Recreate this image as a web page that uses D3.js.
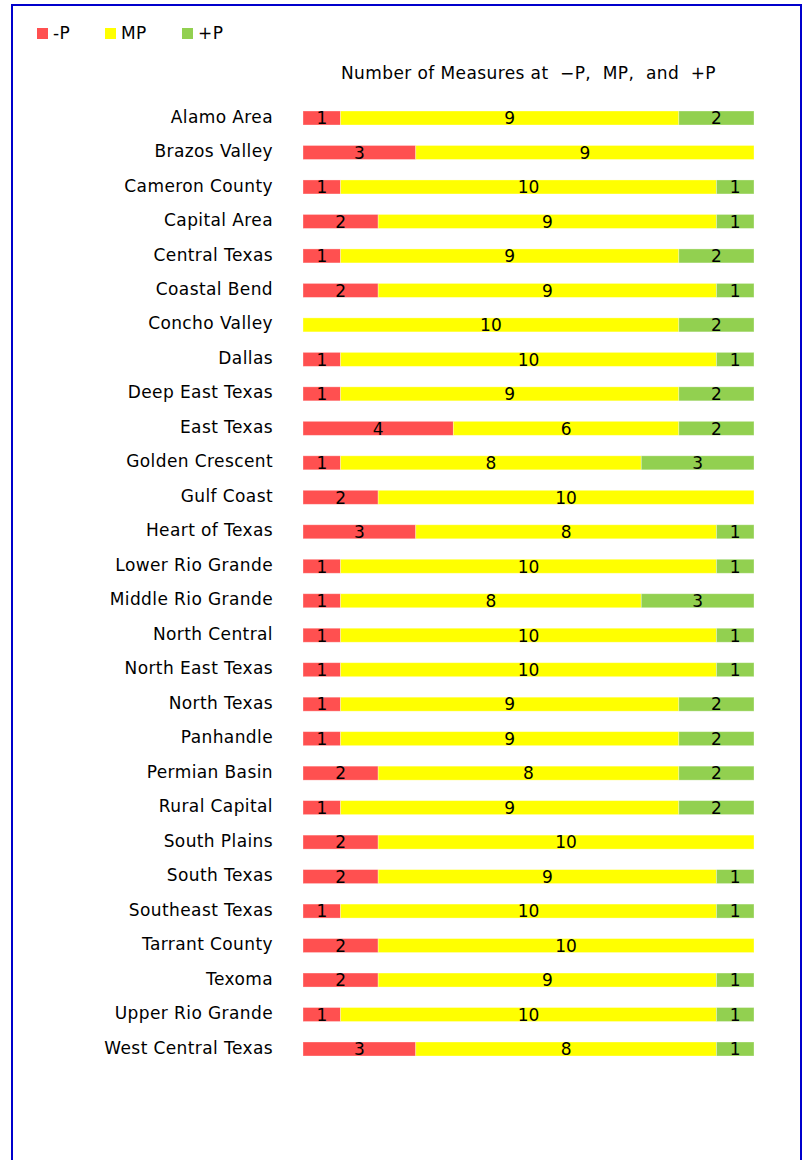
<!DOCTYPE html>
<html>
<head>
    <meta charset="utf-8">
    <title>Number of Measures at -P, MP, and +P</title>
    <style>
        body {
            margin: 0;
            background: #fff;
            font-family: "DejaVu Sans", Verdana, sans-serif;
        }
        .lbl {
            font-size: 17px;
            letter-spacing: 0.4px;
        }
    </style>
    <script src="https://d3js.org/d3.v7.min.js"></script>
</head>
<body>
    <div id="chart"></div>
    <script>
        var regions = ["Alamo Area", "Brazos Valley", "Cameron County", "Capital Area", "Central Texas",
            "Coastal Bend", "Concho Valley", "Dallas", "Deep East Texas", "East Texas", "Golden Crescent",
            "Gulf Coast", "Heart of Texas", "Lower Rio Grande", "Middle Rio Grande", "North Central",
            "North East Texas", "North Texas", "Panhandle", "Permian Basin", "Rural Capital", "South Plains",
            "South Texas", "Southeast Texas", "Tarrant County", "Texoma", "Upper Rio Grande", "West Central Texas"];
        var minusP = [1, 3, 1, 2, 1, 2, 0, 1, 1, 4, 1, 2, 3, 1, 1, 1, 1, 1, 1, 2, 1, 2, 2, 1, 2, 2, 1, 3];
        var mp     = [9, 9, 10, 9, 9, 9, 10, 10, 9, 6, 8, 10, 8, 10, 8, 10, 10, 9, 9, 8, 9, 10, 9, 10, 10, 9, 10, 8];
        var plusP  = [2, 0, 1, 1, 2, 1, 2, 1, 2, 2, 3, 0, 1, 1, 3, 1, 1, 2, 2, 2, 2, 0, 1, 1, 0, 1, 1, 1];
        var seriesNames = ["-P", "MP", "+P"];
        var colors = ["#FF5050", "#FFFF00", "#92D050"];

        var width = 803, height = 1160;

        // one row per region, keyed by series name
        var data = regions.map(function (r, i) {
            return { region: r, "-P": minusP[i], "MP": mp[i], "+P": plusP[i] };
        });
        var stacked = d3.stack().keys(seriesNames)(data);

        var svg = d3.select("#chart").append("svg")
            .attr("width", width)
            .attr("height", height);

        // blue frame, bottom runs off the page
        svg.append("rect")
            .attr("x", 12).attr("y", 5)
            .attr("width", 789).attr("height", 1300)
            .attr("fill", "none")
            .attr("stroke", "#0000CC")
            .attr("stroke-width", 2);

        var x = d3.scaleLinear()
            .domain([0, 12])
            .range([303, 754]);

        var y = d3.scaleBand()
            .domain(regions)
            .range([100.76, 1066.24])
            .paddingInner(0.594)
            .paddingOuter(0.297);

        var color = d3.scaleOrdinal().domain(seriesNames).range(colors);

        // legend
        var legend = svg.append("g").selectAll("g")
            .data(seriesNames)
            .enter().append("g")
            .attr("transform", function (d, i) { return "translate(" + [37, 105, 182][i] + ",28)"; });
        legend.append("rect")
            .attr("width", 11).attr("height", 11)
            .attr("fill", function (d) { return color(d); });
        legend.append("text")
            .attr("class", "lbl")
            .attr("x", 16).attr("y", 11)
            .text(function (d) { return d; });

        // title
        svg.append("text")
            .attr("class", "lbl")
            .attr("x", (x.range()[0] + x.range()[1]) / 2)
            .attr("y", 79)
            .attr("text-anchor", "middle")
            .style("white-space", "pre")
            .text("Number of Measures at  \u2212P,  MP,  and  +P");

        // region labels
        svg.append("g").selectAll("text")
            .data(regions)
            .enter().append("text")
            .attr("class", "lbl")
            .attr("x", 273)
            .attr("y", function (d) { return y(d) + y.bandwidth() / 2; })
            .attr("dy", "0.27em")
            .attr("text-anchor", "end")
            .text(function (d) { return d; });

        // stacked bars
        var layer = svg.append("g").selectAll("g")
            .data(stacked)
            .enter().append("g")
            .attr("fill", function (d) { return color(d.key); });

        layer.selectAll("rect")
            .data(function (d) { return d.filter(function (s) { return s[1] > s[0]; }); })
            .enter().append("rect")
            .attr("x", function (d) { return x(d[0]); })
            .attr("y", function (d) { return y(d.data.region); })
            .attr("width", function (d) { return x(d[1]) - x(d[0]); })
            .attr("height", y.bandwidth())
            .attr("stroke", "#fff")
            .attr("stroke-opacity", 0.4)
            .attr("stroke-width", 0.8);

        // segment values
        layer.selectAll("text")
            .data(function (d) { return d.filter(function (s) { return s[1] > s[0]; }); })
            .enter().append("text")
            .attr("x", function (d) { return (x(d[0]) + x(d[1])) / 2; })
            .attr("y", function (d) { return y(d.data.region) + y.bandwidth() / 2; })
            .attr("dy", "0.37em")
            .attr("text-anchor", "middle")
            .attr("fill", "#000")
            .style("font-size", "17px")
            .text(function (d) { return d[1] - d[0]; });
    </script>
</body>
</html>
